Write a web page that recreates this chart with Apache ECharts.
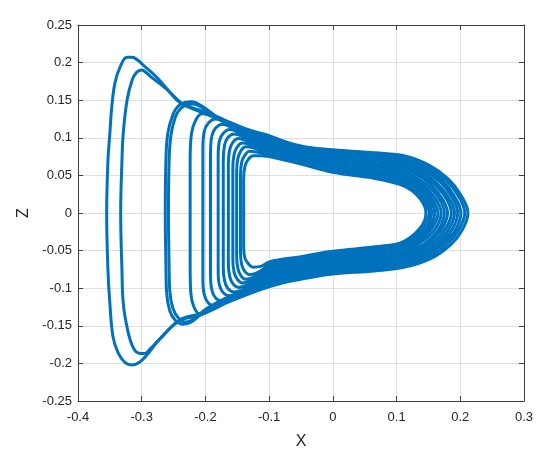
<!DOCTYPE html>
<html>
<head>
<meta charset="utf-8">
<script src="https://cdn.jsdelivr.net/npm/echarts@6/dist/echarts.min.js"></script>
<style>
  html, body { margin: 0; padding: 0; background: #fff; }
  #chart { width: 550px; height: 463px; }
</style>
</head>
<body>
<div id="chart"></div>
<script>
// axis ranges
const xRange = [-0.4, 0.3, 0.1]
const zRange = [-0.25, 0.25, 0.05]

// trajectory, one revolution per array, [x, z]
const loopA = [[-0.100,0.103],[-0.05,0.089],[0,0.084],[0.066,0.080],[0.113,0.076],[0.150,0.064],[0.180,0.046],[0.200,0.025],[0.212,0],[0.202,-0.024],[0.185,-0.042],[0.155,-0.060],[0.113,-0.072],[0.066,-0.077],[0,-0.081],[-0.05,-0.088],[-0.100,-0.098],
  [-0.157,-0.116],[-0.209,-0.136],[-0.240,-0.143],[-0.272,-0.168],[-0.292,-0.189],[-0.303,-0.198],[-0.315,-0.202],[-0.326,-0.199],[-0.337,-0.186],[-0.345,-0.165],[-0.350,-0.120],[-0.353,-0.076],[-0.355,0],[-0.353,0.070],[-0.350,0.106],[-0.347,0.141],[-0.342,0.173],[-0.334,0.194],[-0.323,0.207],[-0.315,0.207],[-0.306,0.203],[-0.298,0.197],[-0.276,0.180],[-0.256,0.161],[-0.237,0.146],[-0.210,0.137],[-0.182,0.128],[-0.157,0.119],[-0.130,0.110],[-0.100,0.103]]
const loopB = [[-0.100,0.101],[-0.05,0.087],[0,0.082],[0.066,0.077],[0.112,0.073],[0.148,0.061],[0.177,0.044],[0.196,0.024],[0.207,0],[0.197,-0.023],[0.181,-0.040],[0.152,-0.058],[0.112,-0.069],[0.066,-0.074],[0,-0.079],[-0.05,-0.086],[-0.100,-0.095],
  [-0.157,-0.114],[-0.209,-0.134],[-0.240,-0.142],[-0.270,-0.166],[-0.287,-0.181],[-0.296,-0.187],[-0.306,-0.186],[-0.315,-0.176],[-0.323,-0.152],[-0.329,-0.120],[-0.331,-0.076],[-0.333,0],[-0.331,0.070],[-0.329,0.106],[-0.323,0.150],[-0.315,0.177],[-0.308,0.187],[-0.300,0.190],[-0.292,0.186],[-0.284,0.180],[-0.260,0.164],[-0.240,0.147],[-0.210,0.135],[-0.182,0.126],[-0.157,0.117],[-0.130,0.108],[-0.100,0.101]]
const loopC1 = [[-0.100,0.098],[-0.05,0.085],[0,0.079],[0.066,0.075],[0.112,0.070],[0.146,0.059],[0.173,0.042],[0.191,0.022],[0.201,0],[0.193,-0.022],[0.177,-0.038],[0.150,-0.055],[0.112,-0.067],[0.066,-0.072],[0,-0.076],[-0.05,-0.083],[-0.100,-0.093],
  [-0.157,-0.112],[-0.200,-0.130],[-0.222,-0.145],[-0.235,-0.148],[-0.247,-0.143],[-0.256,-0.130],[-0.261,-0.105],[-0.262,-0.070],[-0.263,0],[-0.262,0.070],[-0.259,0.106],[-0.251,0.131],[-0.243,0.142],[-0.232,0.147],[-0.222,0.148],[-0.205,0.142],[-0.182,0.128],[-0.157,0.117],[-0.130,0.106],[-0.100,0.098]]
const loopC2 = [[-0.100,0.096],[-0.05,0.083],[0,0.077],[0.066,0.072],[0.111,0.067],[0.144,0.056],[0.170,0.040],[0.187,0.021],[0.196,0],[0.188,-0.021],[0.173,-0.037],[0.148,-0.053],[0.111,-0.064],[0.066,-0.069],[0,-0.074],[-0.05,-0.081],[-0.100,-0.090],
  [-0.157,-0.109],[-0.198,-0.127],[-0.218,-0.141],[-0.231,-0.145],[-0.242,-0.140],[-0.251,-0.127],[-0.256,-0.103],[-0.257,-0.070],[-0.258,0],[-0.257,0.070],[-0.254,0.104],[-0.247,0.128],[-0.239,0.139],[-0.229,0.144],[-0.219,0.145],[-0.203,0.139],[-0.182,0.126],[-0.157,0.115],[-0.130,0.104],[-0.100,0.096]]
const loopD = [[-0.100,0.094],[-0.05,0.081],[0,0.074],[0.066,0.069],[0.110,0.064],[0.142,0.053],[0.166,0.037],[0.182,0.020],[0.191,0],[0.183,-0.020],[0.170,-0.035],[0.145,-0.051],[0.110,-0.062],[0.066,-0.067],[0,-0.071],[-0.05,-0.078],[-0.100,-0.087],
  [-0.140,-0.103],[-0.175,-0.120],[-0.196,-0.131],[-0.209,-0.134],[-0.218,-0.125],[-0.223,-0.106],[-0.224,-0.070],[-0.224,0],[-0.224,0.070],[-0.222,0.105],[-0.215,0.124],[-0.205,0.132],[-0.192,0.131],[-0.170,0.122],[-0.145,0.110],[-0.125,0.101],[-0.100,0.094]]
const loopE = [[-0.100,0.092],[-0.05,0.079],[0,0.072],[0.066,0.066],[0.110,0.061],[0.140,0.050],[0.163,0.035],[0.178,0.019],[0.186,0],[0.179,-0.018],[0.166,-0.033],[0.143,-0.048],[0.110,-0.059],[0.066,-0.064],[0,-0.069],[-0.05,-0.076],[-0.100,-0.085],
  [-0.135,-0.101],[-0.165,-0.117],[-0.184,-0.124],[-0.195,-0.120],[-0.202,-0.108],[-0.204,-0.087],[-0.204,0],[-0.204,0.085],[-0.202,0.108],[-0.195,0.120],[-0.184,0.125],[-0.165,0.119],[-0.135,0.104],[-0.100,0.092]]
const loopF = [[-0.100,0.090],[-0.05,0.077],[0,0.070],[0.066,0.064],[0.109,0.058],[0.138,0.048],[0.159,0.033],[0.173,0.017],[0.180,0],[0.174,-0.017],[0.162,-0.031],[0.140,-0.046],[0.109,-0.057],[0.066,-0.062],[0,-0.067],[-0.05,-0.074],[-0.100,-0.082],
  [-0.130,-0.098],[-0.155,-0.111],[-0.173,-0.117],[-0.184,-0.113],[-0.190,-0.102],[-0.192,-0.082],[-0.192,0],[-0.192,0.080],[-0.190,0.102],[-0.184,0.113],[-0.173,0.118],[-0.155,0.112],[-0.130,0.100],[-0.100,0.090]]
const loopG = [[-0.100,0.087],[-0.05,0.076],[0,0.067],[0.066,0.061],[0.109,0.055],[0.135,0.045],[0.156,0.031],[0.169,0.016],[0.175,0],[0.170,-0.016],[0.158,-0.030],[0.138,-0.044],[0.109,-0.054],[0.066,-0.059],[0,-0.064],[-0.05,-0.071],[-0.100,-0.080],
  [-0.125,-0.094],[-0.145,-0.105],[-0.162,-0.110],[-0.172,-0.106],[-0.178,-0.096],[-0.180,-0.077],[-0.180,0],[-0.180,0.075],[-0.178,0.096],[-0.172,0.106],[-0.162,0.111],[-0.145,0.106],[-0.125,0.096],[-0.100,0.087]]
const loopH = [[-0.100,0.085],[-0.05,0.074],[0,0.065],[0.066,0.058],[0.108,0.052],[0.133,0.042],[0.152,0.029],[0.164,0.015],[0.170,0],[0.165,-0.015],[0.154,-0.028],[0.135,-0.041],[0.108,-0.052],[0.066,-0.057],[0,-0.062],[-0.05,-0.069],[-0.100,-0.077],
  [-0.122,-0.091],[-0.140,-0.101],[-0.155,-0.105],[-0.165,-0.100],[-0.170,-0.090],[-0.172,-0.072],[-0.172,0],[-0.172,0.070],[-0.170,0.090],[-0.165,0.100],[-0.155,0.105],[-0.140,0.101],[-0.122,0.093],[-0.100,0.085]]
const loopI = [[-0.100,0.083],[-0.05,0.072],[0,0.062],[0.066,0.056],[0.107,0.049],[0.131,0.040],[0.149,0.027],[0.160,0.013],[0.165,0],[0.160,-0.014],[0.150,-0.026],[0.133,-0.039],[0.107,-0.049],[0.066,-0.054],[0,-0.059],[-0.05,-0.066],[-0.100,-0.074],
  [-0.118,-0.087],[-0.135,-0.096],[-0.148,-0.099],[-0.157,-0.094],[-0.162,-0.084],[-0.164,-0.067],[-0.164,0],[-0.164,0.065],[-0.162,0.084],[-0.157,0.094],[-0.148,0.099],[-0.135,0.096],[-0.118,0.089],[-0.100,0.083]]
const loopJ = [[-0.100,0.081],[-0.05,0.070],[0,0.060],[0.066,0.053],[0.107,0.046],[0.130,0.037],[0.146,0.025],[0.156,0.012],[0.160,0],[0.156,-0.013],[0.147,-0.025],[0.131,-0.037],[0.107,-0.047],[0.066,-0.052],[0,-0.057],[-0.05,-0.064],[-0.100,-0.072],
  [-0.115,-0.083],[-0.130,-0.090],[-0.142,-0.093],[-0.150,-0.088],[-0.155,-0.079],[-0.157,-0.062],[-0.157,0],[-0.157,0.060],[-0.155,0.078],[-0.150,0.088],[-0.142,0.093],[-0.130,0.091],[-0.115,0.086],[-0.100,0.081]]
const loopK = [[-0.100,0.079],[-0.05,0.068],[0,0.058],[0.066,0.051],[0.106,0.043],[0.128,0.035],[0.143,0.023],[0.152,0.011],[0.155,0],[0.152,-0.012],[0.144,-0.023],[0.128,-0.035],[0.106,-0.044],[0.066,-0.049],[0,-0.055],[-0.05,-0.062],[-0.100,-0.070],
  [-0.113,-0.079],[-0.126,-0.086],[-0.137,-0.088],[-0.144,-0.084],[-0.149,-0.074],[-0.151,-0.057],[-0.151,0],[-0.151,0.055],[-0.149,0.073],[-0.144,0.083],[-0.137,0.088],[-0.126,0.087],[-0.113,0.083],[-0.100,0.079]]
const loopM = [[-0.100,0.077],[-0.05,0.067],[0,0.056],[0.066,0.048],[0.106,0.041],[0.126,0.032],[0.140,0.021],[0.148,0.010],[0.151,0],[0.148,-0.011],[0.140,-0.022],[0.126,-0.033],[0.106,-0.042],[0.066,-0.047],[0,-0.053],[-0.05,-0.060],[-0.100,-0.067],
  [-0.110,-0.075],[-0.120,-0.080],[-0.131,-0.082],[-0.138,-0.078],[-0.143,-0.069],[-0.145,-0.052],[-0.145,0],[-0.145,0.050],[-0.143,0.068],[-0.138,0.077],[-0.131,0.082],[-0.120,0.081],[-0.110,0.079],[-0.100,0.077]]
const loopO = [[-0.100,0.075],[-0.05,0.065],[0,0.054],[0.066,0.046],[0.105,0.038],[0.124,0.030],[0.137,0.019],[0.144,0.009],[0.146,0],[0.144,-0.010],[0.137,-0.020],[0.124,-0.031],[0.105,-0.040],[0.066,-0.045],[0,-0.051],[-0.05,-0.058],[-0.100,-0.065],
  [-0.113,-0.071],[-0.125,-0.072],[-0.133,-0.067],[-0.138,-0.060],[-0.140,-0.046],[-0.140,0],[-0.140,0.045],[-0.138,0.062],[-0.133,0.071],[-0.125,0.076],[-0.113,0.076],[-0.100,0.075]]

const loops = [loopA, loopB, loopC1, loopC2, loopD, loopE, loopF, loopG, loopH, loopI, loopJ, loopK, loopM, loopO]

const lineColor = '#0072BD'
const axisColor = '#404040'
const textColor = '#262626'
const gridColor = '#dfdfdf'
const font = 'Liberation Sans'

const chart = echarts.init(document.getElementById('chart'), null, { renderer: 'canvas' })

function boxAxis(pos, range, main) {
    return {
        type: 'value',
        position: pos,
        min: range[0],
        max: range[1],
        interval: range[2],
        axisLine: { show: true, onZero: false, lineStyle: { color: axisColor, width: 1 } },
        axisTick: { show: true, inside: true, length: 5, lineStyle: { color: axisColor } },
        axisLabel: { show: main, color: textColor, fontSize: 13, fontFamily: font, margin: pos === 'bottom' ? 10 : 6 },
        splitLine: { show: main, lineStyle: { color: gridColor, width: 1 } }
    }
}

const xMain = boxAxis('bottom', xRange, true)
xMain.name = 'X'
xMain.nameLocation = 'middle'
xMain.nameGap = 33
xMain.nameTextStyle = { color: textColor, fontSize: 16, fontFamily: font }

const yMain = boxAxis('left', zRange, true)
yMain.name = 'Z'
yMain.nameLocation = 'middle'
yMain.nameGap = 39
yMain.nameTextStyle = { color: textColor, fontSize: 16, fontFamily: font }

const option = {
    animation: false,
    grid: { left: 78, right: 26, top: 25, bottom: 62 },
    xAxis: [xMain, boxAxis('top', xRange, false)],
    yAxis: [yMain, boxAxis('right', zRange, false)],
    series: loops.map((pts, i) => ({
        name: 'orbit' + i,
        type: 'line',
        xAxisIndex: 0,
        yAxisIndex: 0,
        data: pts,
        smooth: 0.4,
        showSymbol: false,
        lineStyle: { color: lineColor, width: 3 },
        z: 3
    }))
}

chart.setOption(option)
</script>
</body>
</html>
